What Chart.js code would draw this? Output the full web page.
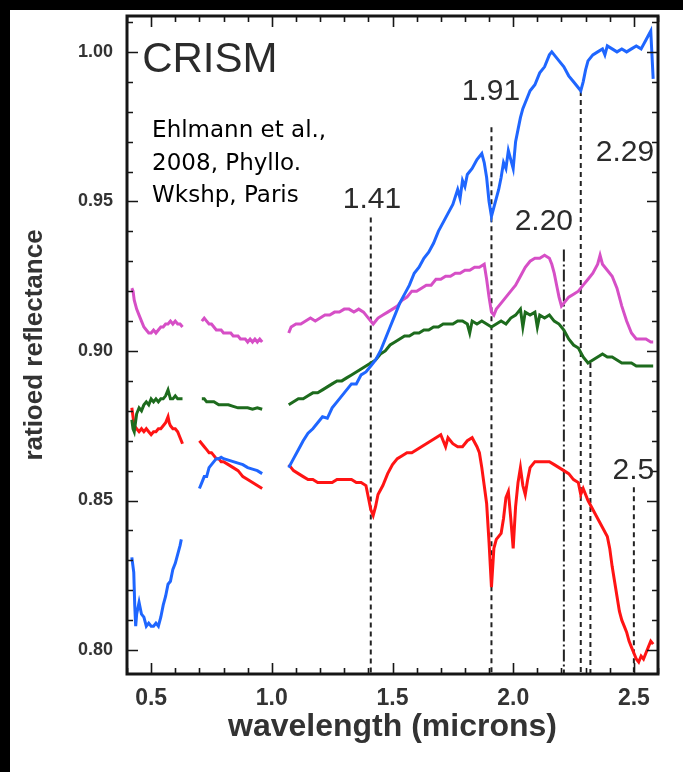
<!DOCTYPE html>
<html>
<head>
<meta charset="utf-8">
<script src="https://cdn.jsdelivr.net/npm/chart.js@4.4.1/dist/chart.umd.min.js"></script>
<style>
  html, body { margin: 0; padding: 0; background: #000; width: 683px; height: 772px; overflow: hidden; }
  #wrap { position: absolute; left: 10px; top: 10px; width: 673px; height: 790px; background: #fff; }
</style>
</head>
<body>
<div id="wrap"><canvas id="chart" width="673" height="762"></canvas></div>
<script>
// wavelength (microns) / ratioed reflectance, null = detector gap
const blueX = [0.42,0.428,0.432,0.436,0.44,0.45,0.46,0.47,0.48,0.49,0.50,0.51,0.52,0.53,0.54,0.55,0.56,0.57,0.58,0.59,0.60,0.61,0.62,0.625,
  0.665,
  0.70,0.71,0.72,0.73,0.74,0.75,0.76,0.77,0.78,0.79,0.80,0.82,0.84,0.86,0.88,0.90,0.92,0.94,0.96,
  1.02,
  1.07,1.09,1.11,1.13,1.15,1.17,1.19,1.21,1.23,1.25,1.27,1.29,1.31,1.33,1.35,1.37,1.39,1.41,1.43,1.45,1.47,1.49,1.51,1.53,1.55,1.57,1.59,1.61,1.63,1.65,1.67,1.69,1.71,1.73,1.75,1.77,1.78,1.79,1.80,1.81,1.83,1.85,1.87,1.88,1.89,1.90,1.91,1.92,1.93,1.94,1.95,1.96,1.97,1.98,1.99,2.00,2.01,2.02,2.03,2.04,2.05,2.06,2.07,2.09,2.11,2.13,2.15,2.16,2.17,2.19,2.21,2.23,2.25,2.27,2.28,2.29,2.30,2.31,2.33,2.35,2.37,2.38,2.39,2.41,2.43,2.45,2.47,2.49,2.51,2.53,2.55,2.57,2.58];
const blueY = [0.831,0.826,0.815,0.808,0.812,0.816,0.812,0.811,0.808,0.809,0.808,0.808,0.809,0.808,0.811,0.815,0.818,0.822,0.823,0.827,0.829,0.832,0.835,0.837,
  null,
  0.854,0.856,0.858,0.858,0.861,0.862,0.863,0.864,0.864,0.8645,0.864,0.8635,0.863,0.8625,0.862,0.861,0.8605,0.860,0.859,
  null,
  0.861,0.864,0.867,0.870,0.8725,0.874,0.876,0.878,0.8775,0.881,0.883,0.885,0.887,0.889,0.889,0.892,0.893,0.895,0.897,0.900,0.904,0.908,0.912,0.916,0.919,0.922,0.926,0.928,0.931,0.933,0.936,0.940,0.943,0.946,0.949,0.954,0.951,0.957,0.955,0.959,0.961,0.964,0.966,0.963,0.958,0.950,0.945,0.948,0.951,0.954,0.958,0.963,0.961,0.967,0.964,0.961,0.970,0.974,0.978,0.981,0.983,0.985,0.987,0.989,0.993,0.995,0.999,1.000,0.999,0.997,0.995,0.992,0.990,0.988,0.987,0.990,0.994,0.997,0.999,1.000,1.001,0.999,1.002,1.001,1.000,1.001,1.000,1.001,1.002,1.001,1.004,1.007,0.991];

const pinkX = [0.42,0.425,0.43,0.44,0.45,0.46,0.47,0.48,0.49,0.50,0.51,0.52,0.53,0.54,0.55,0.56,0.57,0.58,0.59,0.60,0.61,0.62,0.63,
  0.67,
  0.71,0.72,0.73,0.74,0.75,0.76,0.77,0.78,0.79,0.80,0.81,0.82,0.83,0.84,0.85,0.86,0.87,0.88,0.89,0.90,0.91,0.92,0.93,0.94,0.95,0.96,
  1.02,
  1.07,1.08,1.10,1.12,1.14,1.16,1.18,1.20,1.22,1.24,1.26,1.28,1.30,1.32,1.34,1.36,1.38,1.40,1.42,1.44,1.46,1.48,1.50,1.52,1.54,1.56,1.58,1.60,1.62,1.64,1.66,1.68,1.70,1.72,1.74,1.76,1.78,1.80,1.82,1.84,1.86,1.88,1.89,1.90,1.91,1.92,1.93,1.95,1.97,1.99,2.01,2.03,2.05,2.07,2.09,2.11,2.13,2.15,2.16,2.17,2.18,2.19,2.20,2.21,2.23,2.25,2.27,2.29,2.31,2.33,2.35,2.36,2.37,2.39,2.41,2.43,2.45,2.47,2.49,2.51,2.53,2.55,2.57,2.58];
const pinkY = [0.921,0.920,0.917,0.914,0.912,0.910,0.908,0.907,0.906,0.906,0.907,0.906,0.907,0.908,0.908,0.909,0.909,0.910,0.909,0.910,0.909,0.909,0.908,
  null,
  0.910,0.911,0.910,0.909,0.909,0.908,0.907,0.907,0.907,0.906,0.906,0.906,0.906,0.905,0.905,0.905,0.904,0.904,0.904,0.903,0.904,0.903,0.904,0.903,0.904,0.903,
  null,
  0.906,0.908,0.909,0.909,0.910,0.911,0.910,0.911,0.912,0.912,0.913,0.913,0.914,0.914,0.913,0.914,0.913,0.911,0.909,0.911,0.912,0.913,0.914,0.915,0.917,0.918,0.920,0.920,0.921,0.922,0.922,0.924,0.924,0.925,0.925,0.926,0.926,0.927,0.927,0.928,0.928,0.929,0.924,0.918,0.913,0.912,0.914,0.916,0.918,0.920,0.922,0.925,0.928,0.930,0.931,0.931,0.932,0.931,0.929,0.926,0.922,0.918,0.915,0.916,0.918,0.919,0.920,0.922,0.924,0.926,0.929,0.932,0.929,0.927,0.925,0.921,0.915,0.910,0.906,0.904,0.904,0.904,0.903,0.903];

const greenX = [0.42,0.425,0.43,0.435,0.44,0.45,0.46,0.47,0.48,0.49,0.50,0.51,0.52,0.53,0.54,0.55,0.56,0.57,0.58,0.59,0.60,0.61,0.62,0.63,
  0.67,
  0.71,0.72,0.73,0.74,0.76,0.78,0.80,0.82,0.84,0.86,0.88,0.90,0.92,0.94,0.96,
  1.02,
  1.07,1.09,1.11,1.13,1.15,1.17,1.19,1.21,1.23,1.25,1.27,1.29,1.31,1.33,1.35,1.37,1.39,1.41,1.43,1.45,1.47,1.49,1.51,1.53,1.55,1.57,1.59,1.61,1.63,1.65,1.67,1.69,1.71,1.73,1.75,1.77,1.79,1.81,1.82,1.83,1.85,1.87,1.89,1.91,1.93,1.95,1.97,1.99,2.01,2.03,2.04,2.05,2.07,2.09,2.10,2.11,2.13,2.15,2.17,2.19,2.21,2.23,2.25,2.27,2.29,2.31,2.33,2.35,2.37,2.39,2.41,2.43,2.45,2.47,2.49,2.51,2.53,2.55,2.57,2.58];
const greenY = [0.877,0.874,0.873,0.876,0.879,0.881,0.880,0.882,0.883,0.882,0.884,0.883,0.884,0.883,0.884,0.884,0.885,0.887,0.884,0.884,0.885,0.884,0.884,0.884,
  null,
  0.884,0.884,0.883,0.883,0.883,0.882,0.882,0.882,0.8815,0.881,0.881,0.881,0.8805,0.881,0.8805,
  null,
  0.882,0.883,0.884,0.884,0.885,0.886,0.886,0.887,0.888,0.889,0.890,0.890,0.891,0.892,0.893,0.894,0.895,0.896,0.897,0.899,0.900,0.902,0.903,0.904,0.905,0.905,0.906,0.906,0.907,0.907,0.908,0.908,0.909,0.909,0.909,0.910,0.910,0.909,0.906,0.910,0.909,0.910,0.909,0.908,0.909,0.910,0.909,0.911,0.912,0.914,0.908,0.913,0.912,0.913,0.908,0.912,0.911,0.912,0.910,0.909,0.907,0.904,0.902,0.901,0.898,0.896,0.897,0.898,0.899,0.898,0.898,0.897,0.896,0.896,0.896,0.895,0.895,0.895,0.895,0.895];

const redX = [0.42,0.425,0.43,0.44,0.45,0.46,0.47,0.48,0.49,0.50,0.51,0.52,0.53,0.54,0.55,0.56,0.57,0.575,0.58,0.59,0.60,0.61,0.62,0.63,
  0.665,
  0.70,0.71,0.72,0.73,0.74,0.75,0.76,0.77,0.78,0.79,0.80,0.82,0.84,0.86,0.88,0.90,0.92,0.94,0.96,
  1.02,
  1.07,1.09,1.11,1.13,1.15,1.17,1.19,1.21,1.23,1.25,1.27,1.29,1.31,1.33,1.35,1.37,1.39,1.40,1.41,1.42,1.43,1.44,1.46,1.48,1.50,1.52,1.54,1.56,1.58,1.60,1.62,1.64,1.66,1.68,1.70,1.72,1.73,1.75,1.77,1.79,1.81,1.83,1.85,1.86,1.87,1.88,1.89,1.90,1.91,1.92,1.93,1.95,1.96,1.97,1.98,1.99,2.00,2.01,2.02,2.03,2.04,2.05,2.06,2.07,2.09,2.11,2.13,2.15,2.17,2.19,2.21,2.23,2.25,2.27,2.28,2.29,2.31,2.33,2.35,2.37,2.39,2.40,2.41,2.42,2.43,2.44,2.45,2.46,2.47,2.48,2.49,2.50,2.51,2.52,2.53,2.54,2.55,2.56,2.57,2.58];
const redY = [0.881,0.878,0.875,0.874,0.873,0.874,0.873,0.874,0.873,0.872,0.873,0.873,0.874,0.874,0.875,0.876,0.878,0.876,0.875,0.874,0.874,0.873,0.871,0.869,
  null,
  0.870,0.869,0.868,0.867,0.866,0.866,0.865,0.864,0.864,0.863,0.863,0.862,0.861,0.860,0.858,0.857,0.856,0.855,0.854,
  null,
  0.862,0.860,0.859,0.858,0.857,0.857,0.856,0.856,0.856,0.856,0.857,0.857,0.857,0.857,0.856,0.856,0.855,0.851,0.847,0.845,0.848,0.852,0.855,0.859,0.862,0.864,0.865,0.866,0.866,0.867,0.868,0.869,0.870,0.871,0.872,0.868,0.871,0.869,0.868,0.868,0.870,0.871,0.868,0.866,0.861,0.855,0.849,0.836,0.821,0.834,0.837,0.839,0.844,0.851,0.853,0.844,0.834,0.848,0.856,0.861,0.855,0.852,0.857,0.861,0.863,0.863,0.863,0.863,0.862,0.861,0.860,0.859,0.857,0.856,0.852,0.854,0.850,0.847,0.844,0.841,0.838,0.834,0.828,0.823,0.818,0.813,0.810,0.808,0.806,0.803,0.801,0.799,0.797,0.796,0.798,0.797,0.799,0.801,0.803,0.802];

// absorption band markers: wavelength, top of the dashed line
const bandX = [1.41, 1.91, 2.21, 2.28, 2.32, 2.50];
const bandTop = [0.9446, 0.9748, 0.9339, 0.9869, 0.896, 0.8544];
const bandDash = [[5,4], [5,4], [12,3,2,3], [5,4], [5,4], [5,4]];

const bandLabels = ['1.41', '1.91', '2.20', '2.29', '2.5'];
const bandLabelX = [1.415, 1.908, 2.127, 2.463, 2.498];
const bandLabelY = [0.9507, 0.9866, 0.9433, 0.9664, 0.860];

const noteLines = ['Ehlmann et al.,', '2008, Phyllo.', 'Wkshp, Paris'];
const noteX = 0.504;
const noteY = [0.9735, 0.9624, 0.9517];

const xMin = 0.4, xMax = 2.6, yMin = 0.792, yMax = 1.012;
const xTickLabels = [0.5, 1.0, 1.5, 2.0, 2.5];
const yTickLabels = [0.80, 0.85, 0.90, 0.95, 1.00];

function pts(xs, ys) {
  return xs.map((x, i) => ({x: x, y: ys[i]}));
}

function curve(label, xs, ys, color) {
  return {
    label: label,
    data: pts(xs, ys),
    borderColor: color,
    borderWidth: 3,
    pointRadius: 0,
    tension: 0,
    spanGaps: false,
    order: 1
  };
}

const datasets = [
  curve('blue', blueX, blueY, '#1f66ff'),
  curve('magenta', pinkX, pinkY, '#d64fc6'),
  curve('green', greenX, greenY, '#1d6b1d'),
  curve('red', redX, redY, '#ff1414')
];
bandX.forEach((x, i) => {
  datasets.push({
    label: 'band ' + x,
    data: [{x: x, y: bandTop[i]}, {x: x, y: yMin}],
    borderColor: '#222',
    borderWidth: 2,
    borderDash: bandDash[i],
    pointRadius: 0,
    order: 10
  });
});

const framePlugin = {
  id: 'frame',
  afterDatasetsDraw(chart) {
    const {ctx, chartArea: a, scales: {x, y}} = chart;
    ctx.save();
    ctx.strokeStyle = '#161616';
    ctx.lineWidth = 1.6;
    ctx.beginPath();
    for (let i = 4; i <= 26; i++) {
      const v = i / 10;
      const px = Math.round(x.getPixelForValue(v)) + 0.5;
      const len = (i % 5 === 0) ? 11 : 6;
      ctx.moveTo(px, a.bottom); ctx.lineTo(px, a.bottom - len);
      ctx.moveTo(px, a.top); ctx.lineTo(px, a.top + len);
    }
    for (let i = 80; i <= 101; i++) {
      const v = i / 100;
      const py = Math.round(y.getPixelForValue(v)) + 0.5;
      const len = (i % 5 === 0) ? 11 : 6;
      ctx.moveTo(a.left, py); ctx.lineTo(a.left + len, py);
      ctx.moveTo(a.right, py); ctx.lineTo(a.right - len, py);
    }
    ctx.stroke();
    ctx.lineWidth = 3;
    ctx.strokeRect(a.left, a.top, a.right - a.left, a.bottom - a.top);
    ctx.restore();
  },
  afterDraw(chart) {
    const {ctx, scales: {x, y}} = chart;
    ctx.save();
    ctx.textBaseline = 'middle';
    ctx.fillStyle = '#2b2b2b';
    ctx.textAlign = 'left';
    ctx.font = '42px "Liberation Sans", Arial, sans-serif';
    ctx.fillText('CRISM', x.getPixelForValue(0.463), y.getPixelForValue(0.9973));
    ctx.textAlign = 'center';
    ctx.font = '30px "Liberation Sans", Arial, sans-serif';
    bandLabels.forEach((t, i) => {
      ctx.fillText(t, x.getPixelForValue(bandLabelX[i]), y.getPixelForValue(bandLabelY[i]));
    });
    ctx.textAlign = 'left';
    ctx.fillStyle = '#000';
    ctx.font = '23px "DejaVu Sans", sans-serif';
    noteLines.forEach((t, i) => {
      ctx.fillText(t, x.getPixelForValue(noteX), y.getPixelForValue(noteY[i]));
    });
    ctx.restore();
  }
};

new Chart(document.getElementById('chart'), {
  type: 'line',
  data: {datasets: datasets},
  plugins: [framePlugin],
  options: {
    responsive: false,
    animation: false,
    devicePixelRatio: 1,
    layout: {padding: {top: 6, right: 25, bottom: 0, left: 0}},
    plugins: {legend: {display: false}, tooltip: {enabled: false}},
    scales: {
      x: {
        type: 'linear',
        min: xMin,
        max: xMax,
        grid: {display: false, drawTicks: false},
        border: {display: false},
        afterBuildTicks: (s) => { s.ticks = xTickLabels.map(v => ({value: v})); },
        afterFit: (s) => { s.height = 98; s.paddingLeft = 0; s.paddingRight = 0; },
        ticks: {
          color: '#333',
          font: {family: '"Liberation Sans", Arial, sans-serif', size: 23, weight: 'bold'},
          padding: 11,
          maxRotation: 0,
          autoSkip: false,
          callback: (v) => Number(v).toFixed(1)
        },
        title: {
          display: true,
          text: 'wavelength (microns)',
          color: '#333',
          font: {family: '"Liberation Sans", Arial, sans-serif', size: 32, weight: 'bold'},
          padding: {top: 0, bottom: 26}
        }
      },
      y: {
        type: 'linear',
        min: yMin,
        max: yMax,
        grid: {display: false, drawTicks: false},
        border: {display: false},
        afterBuildTicks: (s) => { s.ticks = yTickLabels.map(v => ({value: v})); },
        // labels never sit on the plot edges, so no extra top/bottom room is needed
        afterFit: (s) => { s.width = 117; s.paddingTop = 0; s.paddingBottom = 0; },
        ticks: {
          color: '#333',
          font: {family: '"Liberation Sans", Arial, sans-serif', size: 18, weight: 'bold'},
          padding: 14,
          autoSkip: false,
          callback: (v) => Number(v).toFixed(2)
        },
        title: {
          display: true,
          text: 'ratioed reflectance',
          color: '#333',
          font: {family: '"Liberation Sans", Arial, sans-serif', size: 26, weight: 'bold'},
          padding: {top: 9, bottom: 0}
        }
      }
    }
  }
});
</script>
</body>
</html>
